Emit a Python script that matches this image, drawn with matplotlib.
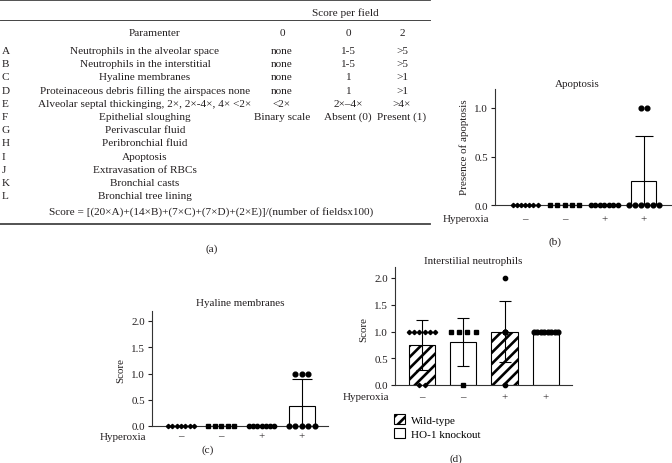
import numpy as np
import matplotlib
matplotlib.use("Agg")
import matplotlib.pyplot as plt
from matplotlib.lines import Line2D
from matplotlib.patches import Patch

plt.rcParams['font.family'] = ['Liberation Serif', 'DejaVu Serif']
plt.rcParams['hatch.linewidth'] = 1.9

W, H = 672, 464
INK = '#231f20'

# ---- table (a) ----
col_heads = ['Paramenter', '0', '0', '2']
row_keys = ['A', 'B', 'C', 'D', 'E', 'F', 'G', 'H', 'I', 'J', 'K', 'L']
row_params = ['Neutrophils in the alveolar space',
              'Neutrophils in the interstitial',
              'Hyaline membranes',
              'Proteinaceous debris filling the airspaces none',
              'Alveolar septal thickinging, 2×, 2×-4×, 4× <2×',
              'Epithelial sloughing',
              'Perivascular fluid',
              'Peribronchial fluid',
              'Apoptosis',
              'Extravasation of RBCs',
              'Bronchial casts',
              'Bronchial tree lining']
score_0 = ['none', 'none', 'none', 'none', '<2×', 'Binary scale']
score_1 = ['1-5', '1-5', '1', '1', '2×–4×', 'Absent (0)']
score_2 = ['>5', '>5', '>1', '>1', '>4×', 'Present (1)']
formula = 'Score = [(20×A)+(14×B)+(7×C)+(7×D)+(2×E)]/(number of fieldsx100)'

# ---- scatter / bar panels ----
hyperoxia = ['–', '–', '+', '+']
apoptosis = [[0, 0, 0, 0, 0, 0, 0],
             [0, 0, 0, 0, 0],
             [0, 0, 0, 0, 0, 0, 0],
             [0, 0, 0, 0, 0, 0, 1, 1]]
hyaline = [[0, 0, 0, 0, 0, 0, 0],
           [0, 0, 0, 0, 0],
           [0, 0, 0, 0, 0, 0, 0],
           [0, 0, 0, 0, 0, 1, 1, 1]]
neutrophils = [[1, 1, 1, 1, 1, 1, 0, 0],
               [1, 1, 1, 1, 0],
               [2, 1, 1, 1, 1, 1, 0],
               [1, 1, 1, 1, 1, 1, 1, 1]]
legend_labels = ['Wild-type', 'HO-1 knockout']

markers = ['D', 's', 'o', 'o']
msizes = [2.2, 3.2, 3.1, 3.4]


def fx(x):
    return x / W


def fy(y):
    return 1 - y / H


fig = plt.figure(figsize=(6.72, 4.64), dpi=100)

# table text
fs = 8.1
cfs = 7.9
def ttext(x, y, s, ha='center'):
    fig.text(fx(x), fy(y), s, ha=ha, va='center', fontsize=fs, color=INK)

for yy, lw in [(1, 1.3), (21, 0.7), (225, 1.3)]:
    fig.add_artist(Line2D([0, fx(430)], [fy(yy), fy(yy)], color='#444444', lw=lw))

ttext(345, 13, 'Score per field')
for x, s in zip([155, 282, 348, 402], col_heads):
    ttext(x, 33, s)
row_y = 51.5 + 13.2 * np.arange(len(row_keys))
for i, y in enumerate(row_y):
    ttext(2, y, row_keys[i], ha='left')
    ttext(145, y, row_params[i])
    if i < len(score_0):
        ttext(282, y, score_0[i])
        ttext(348, y, score_1[i])
        ttext(402, y, score_2[i])
ttext(211, 212, formula)
ttext(212, 249, '(a)')


def panel(rect_px, data, title, title_xy, ylabel, ylab_xy, xlim, ymax, steps,
          capsize, hyp_y, hatches=None):
    x0, ytop, x1, y0 = rect_px
    ax = fig.add_axes([fx(x0), fy(y0), fx(x1 - x0), (y0 - ytop) / H])
    ax.set_xlim(*xlim)
    ax.set_ylim(0, ymax)
    for s in ['top', 'right']:
        ax.spines[s].set_visible(False)
    for s in ['left', 'bottom']:
        ax.spines[s].set_linewidth(0.8)
        ax.spines[s].set_color('#333333')
    ax.set_xticks([])
    ax.set_yticks([0, 0.5, 1.0, 1.5, 2.0] if ymax > 1.5 else [0, 0.5, 1.0])
    ax.yaxis.set_major_formatter(matplotlib.ticker.FormatStrFormatter('%.1f'))
    ax.tick_params(axis='y', length=3, width=0.8, pad=2, labelsize=cfs,
                   colors=INK)

    for g, vals in enumerate(data):
        vals = np.array(vals, dtype=float)
        m = vals.mean()
        sd = vals.std(ddof=1)
        h = hatches[g] if hatches else None
        ax.bar(g, m, width=0.64, facecolor='white', edgecolor='black',
               lw=0.8, hatch=h, zorder=2)
        ax.errorbar(g, m, yerr=sd, color='black', lw=0.8, capsize=capsize,
                    capthick=0.8, zorder=2.5)
        for v in np.unique(vals):
            n = int((vals == v).sum())
            offs = (np.arange(n) - (n - 1) / 2) * steps[g]
            ax.plot(g + offs, [v] * n, ls='none', marker=markers[g],
                    ms=msizes[g], color='black', clip_on=False, zorder=4)

    ax.text(title_xy[0], title_xy[1], title, transform=ax.transAxes,
            ha='center', va='center', fontsize=cfs, color=INK)
    ax.set_ylabel(ylabel, fontsize=cfs, color=INK)
    ax.yaxis.set_label_coords(*ylab_xy)
    tr = matplotlib.transforms.blended_transform_factory(ax.transData,
                                                         ax.transAxes)
    for g, s in enumerate(hyperoxia):
        ax.text(g, hyp_y, s, transform=tr, ha='center', va='center',
                fontsize=cfs, color=INK)
    ax.text(-0.034, hyp_y, 'Hyperoxia', transform=ax.transAxes, ha='right',
            va='center', fontsize=cfs, color=INK)
    return ax


# (b) apoptosis
panel((495, 89.6, 671, 206), apoptosis, 'Apoptosis', (0.466, 1.048),
      'Presence of apoptosis', (-0.15, 0.507), (-0.76, 3.69), 1.2,
      [0.105, 0.18, 0.115, 0.15], 6.8, -0.12)
fig.text(fx(555), fy(242), '(b)', ha='center', va='center', fontsize=fs,
         color=INK)

# (c) hyaline membranes
panel((152, 311.5, 328, 427), hyaline, 'Hyaline membranes', (0.50, 1.065),
      'Score', (-0.15, 0.49), (-0.72, 3.65), 2.2,
      [0.11, 0.16, 0.105, 0.16], 7.0, -0.087)
fig.text(fx(208), fy(450), '(c)', ha='center', va='center', fontsize=fs,
         color=INK)

# (d) interstitial neutrophils
axd = panel((395, 268.3, 572, 386), neutrophils, 'Interstilial neutrophils',
            (0.44, 1.054), 'Score', (-0.15, 0.476), (-0.65, 3.63), 2.2,
            [0.127, 0.2, 0.0, 0.085], 4.5, -0.10,
            hatches=['///', None, '///', None])
handles = [Patch(facecolor='white', edgecolor='black', lw=0.8, hatch='///'),
           Patch(facecolor='white', edgecolor='black', lw=0.8)]
fig.legend(handles, legend_labels, loc='upper left',
           bbox_to_anchor=(fx(394), fy(415)), frameon=False, fontsize=8.0,
           handlelength=1.0, handleheight=1.0, handletextpad=0.5,
           labelspacing=0.3, borderpad=0, borderaxespad=0)
fig.text(fx(456), fy(459), '(d)', ha='center', va='center', fontsize=fs,
         color=INK)

fig.savefig('out.png', dpi=100)
